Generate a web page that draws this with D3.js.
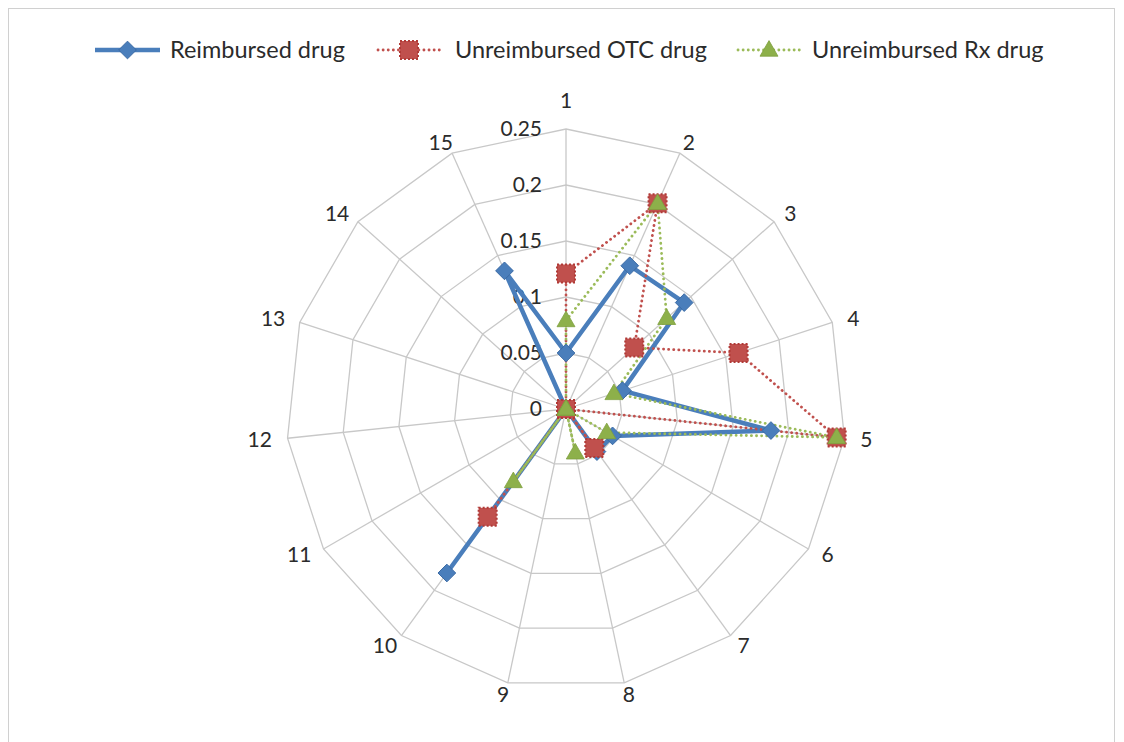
<!DOCTYPE html>
<html><head><meta charset="utf-8">
<script src="https://cdn.jsdelivr.net/npm/d3@7"></script>
<style>body{margin:0;background:#fff}svg{display:block}</style>
</head><body>
<svg id="c" width="1124" height="742"></svg>
<script>
const axes = ["1","2","3","4","5","6","7","8","9","10","11","12","13","14","15"];
const ticks = [0, 0.05, 0.1, 0.15, 0.2, 0.25];
const tickLabels = ["0","0.05","0.1","0.15","0.2","0.25"];
const seriesNames = ["Reimbursed drug","Unreimbursed OTC drug","Unreimbursed Rx drug"];
const reimbursed = [0.05, 0.14, 0.142, 0.053, 0.184, 0.048, 0.047, 0, 0, 0.181, 0, 0, 0, 0, 0.135];
const otc        = [0.121, 0.201, 0.082, 0.162, 0.243, 0, 0.043, 0, 0, 0.119, 0, 0, 0, 0, 0];
const rx         = [0.079, 0.201, 0.121, 0.045, 0.243, 0.042, 0, 0.04, 0, 0.08, 0, 0, 0, 0, 0];

const svg = d3.select("#c");
const cx = 566, cy = 409, R = 280;
const font = "Lato, 'Open Sans', sans-serif";
const txt = "#2b2b2b";

svg.append("rect").attr("x",8.5).attr("y",8.5).attr("width",1106).attr("height",745)
  .attr("fill","none").attr("stroke","#d0d0d0");

const r = d3.scaleLinear().domain([0,0.25]).range([0,R]);
const ang = d3.scaleLinear().domain([0, axes.length]).range([0, 2*Math.PI]);
const pt = (i,v) => [cx + r(v)*Math.sin(ang(i)), cy - r(v)*Math.cos(ang(i))];

const g = svg.append("g");
ticks.slice(1).forEach(t => {
  g.append("path").attr("d", d3.line()(axes.map((a,i)=>pt(i,t))) + "Z")
    .attr("fill","none").attr("stroke","#c8c8c8").attr("stroke-width",1.3);
});
axes.forEach((a,i) => {
  const [x,y] = pt(i,0.25);
  g.append("line").attr("x1",cx).attr("y1",cy).attr("x2",x).attr("y2",y)
    .attr("stroke","#c8c8c8").attr("stroke-width",1.3);
});
ticks.forEach((t,k) => {
  g.append("text").attr("x", cx-24).attr("y", cy - r(t)).attr("dy","0.35em")
    .attr("text-anchor","end").attr("font-family",font).attr("font-size",21).attr("fill",txt)
    .text(tickLabels[k]);
});
axes.forEach((a,i) => {
  const th = ang(i);
  const s = Math.sin(th), c = Math.cos(th);
  const [x,y] = pt(i,0.25);
  const w = a.length * 12;
  const lx = x + s*(16 + w/2);
  const ly = y - c*12 - (i===0 ? 16 : 0);
  g.append("text").attr("x", lx).attr("y", ly).attr("dy","0.35em")
    .attr("text-anchor","middle")
    .attr("font-family",font).attr("font-size",21).attr("fill",txt).text(a);
});

const colors = ["#4A7EBB","#C0504D","#9BBB59"];
const data = [reimbursed, otc, rx];
const line = d3.line().curve(d3.curveLinearClosed);

function marker(sel, k, x, y) {
  if (k===0) {
    sel.append("path").attr("d", d3.symbol(d3.symbolDiamond2, 200)())
      .attr("transform",`translate(${x},${y})`).attr("fill","#4A7EBB").attr("stroke","#3A6AA5").attr("stroke-width",1);
  } else if (k===1) {
    sel.append("rect").attr("x",x-9).attr("y",y-9).attr("width",18).attr("height",18)
      .attr("fill","#C0504D").attr("stroke","#B03A37").attr("stroke-width",2).attr("stroke-dasharray","2,2");
  } else {
    sel.append("path").attr("d", d3.symbol(d3.symbolTriangle, 140)())
      .attr("transform",`translate(${x},${y+1})`).attr("fill","#8DB04A").attr("stroke","#7FA03F").attr("stroke-width",0.8);
  }
}

data.forEach((vals,k) => {
  const pts = vals.map((v,i)=>pt(i,v));
  const p = g.append("path").attr("d", line(pts)).attr("fill","none").attr("stroke",colors[k]);
  if (k===0) p.attr("stroke-width",4.5).attr("stroke-linejoin","round");
  else p.attr("stroke-width",2.8).attr("stroke-dasharray","0.1,5").attr("stroke-linecap","round");
});
data.forEach((vals,k) => {
  vals.forEach((v,i) => { const [x,y]=pt(i,v); marker(g,k,x,y); });
});

const leg = [{x1:95,x2:160,tx:170},{x1:378,x2:440,tx:455},{x1:738,x2:800,tx:812}];
leg.forEach((L,k) => {
  const ly = 50;
  const l = svg.append("line").attr("x1",L.x1).attr("x2",L.x2).attr("y1",ly).attr("y2",ly).attr("stroke",colors[k]);
  if (k===0) l.attr("stroke-width",4.5); else l.attr("stroke-width",2.8).attr("stroke-dasharray","0.1,5").attr("stroke-linecap","round");
  marker(svg,k,(L.x1+L.x2)/2,ly);
  svg.append("text").attr("x",L.tx).attr("y",ly).attr("dy","0.35em").attr("font-family",font)
    .attr("font-size",23.5).attr("fill",txt).text(seriesNames[k]);
});
</script>
</body></html>
